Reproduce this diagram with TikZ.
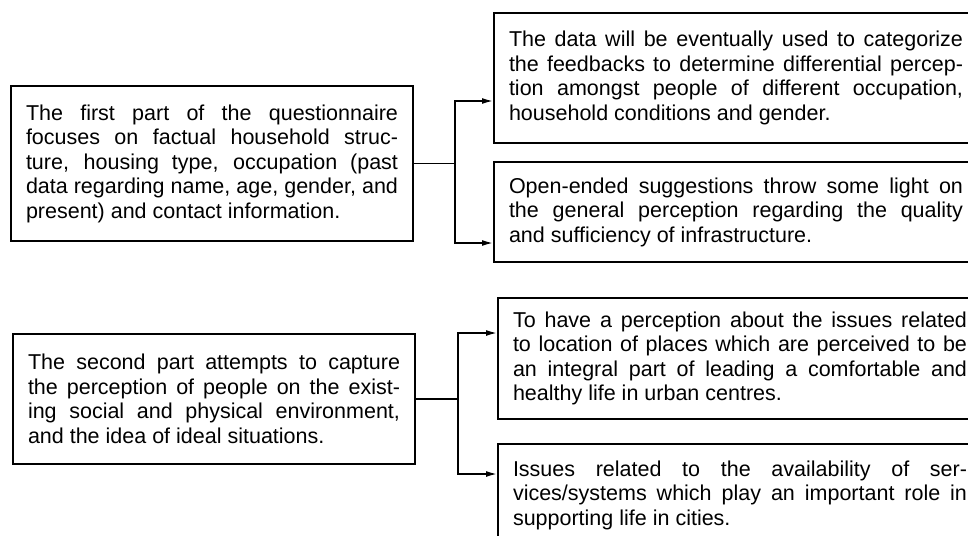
\documentclass[tikz,border=0pt]{standalone}
\usepackage{fontspec}
\setmainfont{Liberation Sans}
\usetikzlibrary{positioning,arrows.meta}

\begin{document}
\begin{tikzpicture}[x=0.5pt, y=-0.5pt, line width=0.8pt,
        box/.style={rectangle, draw, line width=1pt, align=justify, inner xsep=7.5pt, inner ysep=0pt,
            font=\fontsize{10.75}{12.25}\selectfont},
        partbox/.style={box, text width=186pt},
        aimbox/.style={box, text width=227pt},
        link/.style={-{Latex[length=5.5pt,width=3pt]}}]
        \clip (0,0) rectangle (968,535);
        % first part of the questionnaire
        \node[partbox, anchor=north west, minimum height=77.5pt] (part1) at (10,85)
        {The first part of the questionnaire\linebreak focuses on factual household struc-\linebreak ture, housing type, occupation (past\linebreak data regarding name, age, gender, and\linebreak present) and contact information.};
        \node[aimbox, anchor=north west, minimum height=65pt] (categ) at (493,12)
        {The data will be eventually used to categorize\linebreak the feedbacks to determine differential percep-\linebreak tion amongst people of different occupation,\linebreak household conditions and gender.};
        \node[aimbox, below=8.5pt of categ, minimum height=50pt] (sugg)
        {Open-ended suggestions throw some light on\linebreak the general perception regarding the quality\linebreak and sufficiency of infrastructure.};
        % second part of the questionnaire
        \node[partbox, anchor=north west, minimum height=65pt] (part2) at (12,333)
        {The second part attempts to capture\linebreak the perception of people on the exist-\linebreak ing social and physical environment,\linebreak and the idea of ideal situations.};
        \node[aimbox, anchor=north west, minimum height=60.5pt] (locat) at (497,297)
        {To have a perception about the issues related\linebreak to location of places which are perceived to be\linebreak an integral part of leading a comfortable and\linebreak healthy life in urban centres.};
        \node[aimbox, below=11.5pt of locat, minimum height=51pt] (serv)
        {Issues related to the availability of ser-\linebreak vices/systems which play an important role in\linebreak supporting life in cities.};
        % connectors
        \draw (part1.east) -- ++(41,0) coordinate (fork1);
        \draw[link] (fork1) |- ([yshift=-11.5pt]categ.west);
        \draw[link] (fork1) |- ([yshift=-15.5pt]sugg.west);
        \draw (part2.east) -- ++(42,0) coordinate (fork2);
        \draw[link] (fork2) |- ([yshift=12.75pt]locat.west);
        \draw[link] (fork2) |- ([yshift=10.5pt]serv.west);
    \end{tikzpicture}
\end{document}
